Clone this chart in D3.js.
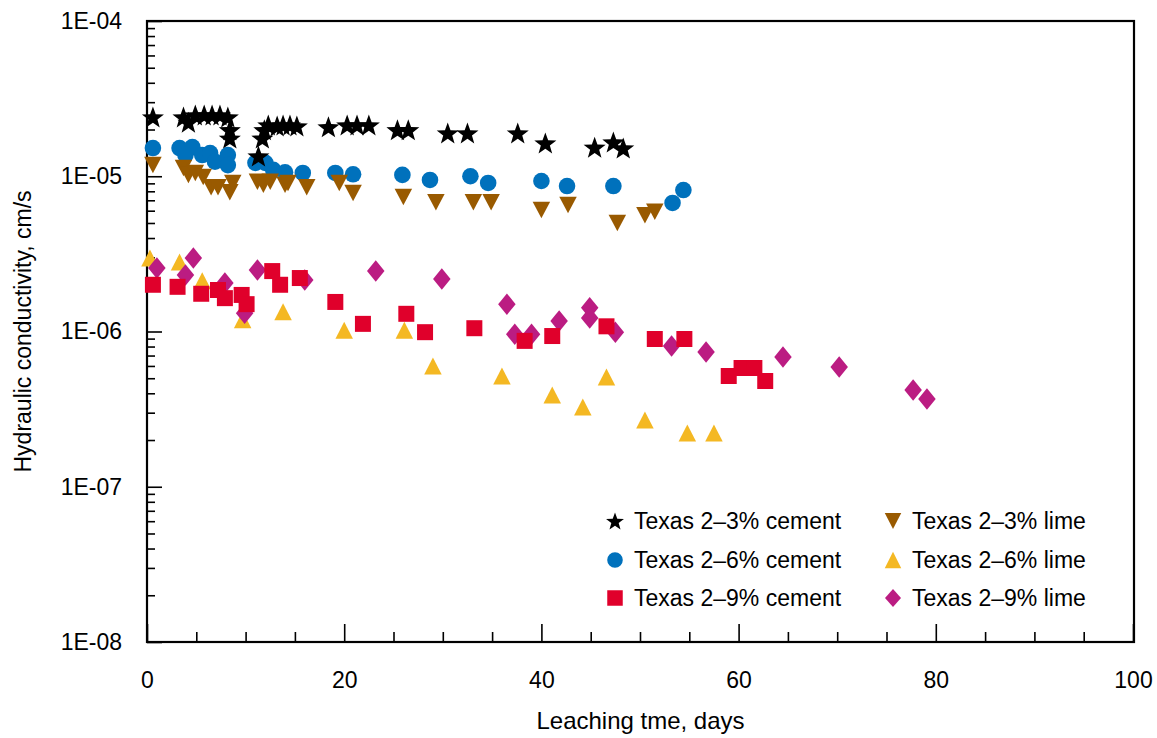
<!DOCTYPE html>
<html>
<head>
<meta charset="utf-8">
<script src="https://cdn.jsdelivr.net/npm/d3@7"></script>
<style>
  html, body { margin: 0; padding: 0; background: #fff; }
  svg { display: block; }
  text { font-family: "Liberation Sans", Arial, Helvetica, sans-serif; fill: #000; }
</style>
</head>
<body>
<svg id="chart" width="1157" height="738"></svg>
<script>
// ---------- DATA ----------
const xTickValues = [0, 20, 40, 60, 80, 100];
const yTickValues = [1e-8, 1e-7, 1e-6, 1e-5, 1e-4];
const yTickLabels = ["1E-08", "1E-07", "1E-06", "1E-05", "1E-04"];

const seriesNames = ["Texas 2–3% cement", "Texas 2–6% cement", "Texas 2–9% cement",
                     "Texas 2–3% lime", "Texas 2–6% lime", "Texas 2–9% lime"];

// Texas 2–3% cement (stars)
const cem3Days = [0.6, 3.7, 4.2, 4.9, 5.8, 6.6, 7.4, 8.2, 8.4, 8.4, 11.3, 11.7, 11.9, 12.3, 13.2, 13.8, 14.5, 15.2, 18.4, 20.3, 21.3, 22.5, 25.4, 26.5, 30.5, 32.5, 37.6, 40.4, 45.4, 47.3, 48.3];
const cem3K    = [2.41e-5, 2.41e-5, 2.23e-5, 2.48e-5, 2.48e-5, 2.48e-5, 2.48e-5, 2.41e-5, 1.99e-5, 1.76e-5, 1.35e-5, 1.76e-5, 1.99e-5, 2.14e-5, 2.11e-5, 2.14e-5, 2.14e-5, 2.11e-5, 2.08e-5, 2.14e-5, 2.14e-5, 2.14e-5, 1.99e-5, 1.99e-5, 1.90e-5, 1.90e-5, 1.90e-5, 1.64e-5, 1.54e-5, 1.66e-5, 1.52e-5];

// Texas 2–6% cement (circles)
const cem6Days = [0.6, 3.3, 4.6, 3.9, 5.6, 6.4, 6.9, 8.2, 8.2, 11.0, 12.0, 12.8, 14.0, 15.8, 19.1, 20.9, 25.9, 28.7, 32.8, 34.6, 40.0, 42.6, 47.3, 53.3, 54.4];
const cem6K    = [1.52e-5, 1.52e-5, 1.54e-5, 1.37e-5, 1.37e-5, 1.41e-5, 1.24e-5, 1.37e-5, 1.18e-5, 1.22e-5, 1.22e-5, 1.10e-5, 1.06e-5, 1.05e-5, 1.05e-5, 1.03e-5, 1.02e-5, 9.46e-6, 1.00e-5, 9.05e-6, 9.32e-6, 8.65e-6, 8.65e-6, 6.73e-6, 8.15e-6];

// Texas 2–9% cement (squares)
const cem9Days = [0.6, 3.1, 5.5, 7.2, 7.9, 9.6, 10.1, 12.7, 13.5, 15.5, 19.1, 21.9, 26.3, 28.2, 33.2, 38.3, 41.1, 46.6, 51.5, 54.5, 59.0, 60.3, 61.6, 62.7];
const cem9K    = [2.0e-6, 1.94e-6, 1.75e-6, 1.85e-6, 1.64e-6, 1.72e-6, 1.50e-6, 2.45e-6, 2.0e-6, 2.21e-6, 1.55e-6, 1.12e-6, 1.30e-6, 9.9e-7, 1.05e-6, 8.7e-7, 9.35e-7, 1.08e-6, 8.95e-7, 8.95e-7, 5.17e-7, 5.82e-7, 5.82e-7, 4.8e-7];

// Texas 2–3% lime (inverted triangles)
const lime3Days = [0.6, 3.7, 4.2, 4.9, 5.7, 6.5, 7.2, 8.4, 8.7, 11.2, 11.8, 12.5, 14.0, 14.3, 16.2, 19.5, 20.9, 26.0, 29.3, 33.1, 34.9, 40.0, 42.7, 47.7, 50.5, 51.5];
const lime3K    = [1.18e-5, 1.13e-5, 1.02e-5, 1.05e-5, 9.9e-6, 8.5e-6, 8.5e-6, 7.9e-6, 9.05e-6, 9.2e-6, 8.8e-6, 9.2e-6, 8.8e-6, 9.05e-6, 8.5e-6, 9.05e-6, 7.8e-6, 7.35e-6, 6.8e-6, 6.8e-6, 6.8e-6, 6.07e-6, 6.53e-6, 5.0e-6, 5.6e-6, 5.9e-6];

// Texas 2–6% lime (triangles)
const lime6Days = [0.3, 3.3, 5.6, 9.7, 13.8, 20.0, 26.1, 29.0, 36.0, 41.1, 44.2, 46.6, 50.5, 54.8, 57.5];
const lime6K    = [2.97e-6, 2.80e-6, 2.12e-6, 1.19e-6, 1.34e-6, 1.02e-6, 1.02e-6, 6.0e-7, 5.17e-7, 3.9e-7, 3.26e-7, 5.1e-7, 2.69e-7, 2.22e-7, 2.22e-7];

// Texas 2–9% lime (diamonds)
const lime9Days = [1.0, 3.9, 4.7, 7.9, 9.9, 11.2, 16.0, 23.2, 29.9, 36.5, 37.3, 39.0, 41.8, 44.9, 44.9, 47.5, 53.2, 56.7, 64.5, 70.2, 77.7, 79.1];
const lime9K    = [2.56e-6, 2.31e-6, 2.97e-6, 2.05e-6, 1.31e-6, 2.49e-6, 2.15e-6, 2.45e-6, 2.18e-6, 1.50e-6, 9.6e-7, 9.6e-7, 1.17e-6, 1.42e-6, 1.22e-6, 9.9e-7, 8.07e-7, 7.38e-7, 6.85e-7, 5.9e-7, 4.2e-7, 3.67e-7];

// ---------- LAYOUT ----------
const plotLeft = 147, plotRight = 1134, plotTop = 21, plotBottom = 642;
const FONT = 23;

const svg = d3.select("#chart");
const x = d3.scaleLinear().domain([0, 100]).range([plotLeft, plotRight - 1]);
const y = d3.scaleLog().domain([1e-8, 1e-4]).range([plotBottom, plotTop]);

function starPath(R) {
  const r = R * 0.41;
  let p = "";
  for (let i = 0; i < 10; i++) {
    const a = -Math.PI / 2 + i * Math.PI / 5;
    const rr = i % 2 === 0 ? R : r;
    p += (i === 0 ? "M" : "L") + (rr * Math.cos(a)).toFixed(2) + "," + (rr * Math.sin(a) + R * 0.095).toFixed(2);
  }
  return p + "Z";
}
function circlePath(r) { return d3.symbol(d3.symbolCircle, Math.PI * r * r)(); }
function squarePath(s) { const h = s / 2; return `M${-h},${-h}H${h}V${h}H${-h}Z`; }
function triUpPath(w, h) { return `M0,${-h/2}L${w/2},${h/2}L${-w/2},${h/2}Z`; }
function triDownPath(w, h) { return `M0,${h/2}L${w/2},${-h/2}L${-w/2},${-h/2}Z`; }
function diamondPath(w, h) { return `M0,${-h/2}L${w/2},0L0,${h/2}L${-w/2},0Z`; }

const series = [
  { name: seriesNames[1], days: cem6Days, k: cem6K, color: "#0071BC", path: circlePath(8.3), lpath: circlePath(7.8) },
  { name: seriesNames[3], days: lime3Days, k: lime3K, color: "#995A00", path: triDownPath(17.5, 16.5), lpath: triDownPath(16.5, 16) },
  { name: seriesNames[4], days: lime6Days, k: lime6K, color: "#F4B823", path: triUpPath(17.5, 17), lpath: triUpPath(16.5, 16.5) },
  { name: seriesNames[5], days: lime9Days, k: lime9K, color: "#BB1C82", path: diamondPath(17.5, 21.5), lpath: diamondPath(16, 18) },
  { name: seriesNames[2], days: cem9Days, k: cem9K, color: "#E0002B", path: squarePath(16), lpath: squarePath(15.5) },
  { name: seriesNames[0], days: cem3Days, k: cem3K, color: "#000000", path: starPath(11.6), lpath: starPath(9.4) }
];

// ---------- AXES ----------
const xMinor = d3.range(0, 101, 5).filter(d => d % 20 !== 0);
svg.append("g")
  .attr("transform", `translate(0,${plotBottom})`)
  .call(d3.axisBottom(x).tickValues(xMinor).tickSizeInner(-10).tickSizeOuter(0).tickFormat(""))
  .call(g => g.select(".domain").remove())
  .call(g => g.selectAll("line").attr("stroke", "#000").attr("stroke-width", 1.6));

svg.append("g")
  .attr("transform", `translate(0,${plotBottom})`)
  .call(d3.axisBottom(x).tickValues(xTickValues).tickSizeInner(-18).tickSizeOuter(0).tickPadding(30).tickFormat(d3.format("d")))
  .call(g => g.select(".domain").remove())
  .call(g => g.selectAll("line").attr("stroke", "#000").attr("stroke-width", 1.6))
  .call(g => g.selectAll("text").attr("font-size", FONT).attr("font-family", '"Liberation Sans", Arial, sans-serif').attr("fill", "#000"));

const yMinor = [];
for (let e = -8; e < -4; e++) for (let m = 2; m <= 9; m++) yMinor.push(m * Math.pow(10, e));
svg.append("g")
  .attr("transform", `translate(${plotLeft},0)`)
  .call(d3.axisLeft(y).tickValues(yMinor).tickSizeInner(-8).tickSizeOuter(0).tickFormat(""))
  .call(g => g.select(".domain").remove())
  .call(g => g.selectAll("line").attr("stroke", "#000").attr("stroke-width", 1.6));

svg.append("g")
  .attr("transform", `translate(${plotLeft},0)`)
  .call(d3.axisLeft(y).tickValues(yTickValues).tickSizeInner(-15).tickSizeOuter(0).tickPadding(25)
        .tickFormat((d, i) => yTickLabels[i]))
  .call(g => g.select(".domain").remove())
  .call(g => g.selectAll("line").attr("stroke", "#000").attr("stroke-width", 1.6))
  .call(g => g.selectAll("text").attr("font-size", FONT).attr("font-family", '"Liberation Sans", Arial, sans-serif').attr("fill", "#000"));

svg.append("rect")
  .attr("x", plotLeft).attr("y", plotTop)
  .attr("width", plotRight - plotLeft).attr("height", plotBottom - plotTop)
  .attr("fill", "none").attr("stroke", "#000").attr("stroke-width", 2.2);

svg.append("text")
  .attr("x", (plotLeft + plotRight) / 2).attr("y", 729)
  .attr("text-anchor", "middle").attr("font-size", 24)
  .text("Leaching tme, days");

svg.append("text")
  .attr("transform", `translate(31,${(plotTop + plotBottom) / 2}) rotate(-90)`)
  .attr("text-anchor", "middle").attr("font-size", FONT)
  .text("Hydraulic conductivity, cm/s");

// ---------- MARKS ----------
series.forEach(s => {
  svg.append("g").selectAll("path")
    .data(s.days.map((d, i) => [d, s.k[i]]))
    .join("path")
    .attr("transform", d => `translate(${x(d[0])},${y(d[1])})`)
    .attr("d", s.path)
    .attr("fill", s.color);
});

// ---------- LEGEND ----------
const legendOrder = [
  { s: series[5], col: 0, row: 0 },
  { s: series[0], col: 0, row: 1 },
  { s: series[4], col: 0, row: 2 },
  { s: series[1], col: 1, row: 0 },
  { s: series[2], col: 1, row: 1 },
  { s: series[3], col: 1, row: 2 }
];
const legCols = [615, 893];
const legRows = [521, 560, 598];
legendOrder.forEach(l => {
  const g = svg.append("g").attr("transform", `translate(${legCols[l.col]},${legRows[l.row]})`);
  g.append("path").attr("d", l.s.lpath).attr("fill", l.s.color);
  g.append("text").attr("x", 19).attr("y", 8.3).attr("font-size", FONT).text(l.s.name);
});
</script>
</body>
</html>
